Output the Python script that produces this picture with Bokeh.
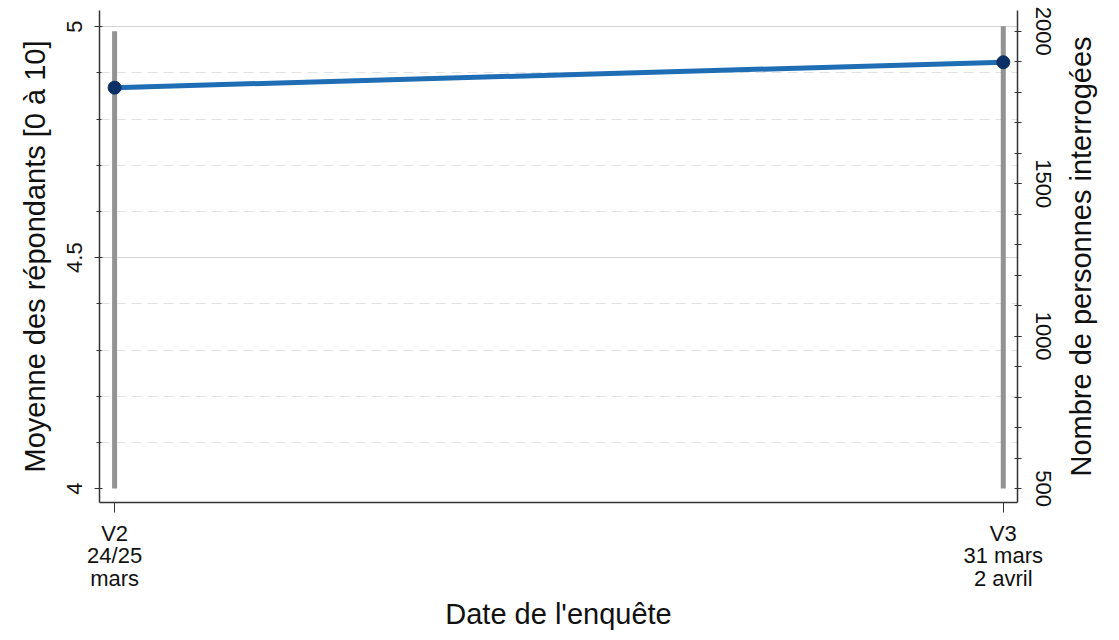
import math
from bokeh.plotting import figure
from bokeh.layouts import row
from bokeh.models import Range1d, LinearAxis, FixedTicker, ColumnDataSource
from bokeh.core.properties import value
from bokeh.embed import file_html
from bokeh.resources import INLINE

# ---- data ----
waves = [0, 1]
wave_labels = ["V2\n24/25\nmars", "V3\n31 mars\n2 avril"]
mean_score = [4.868, 4.923]
n_respondents = [2000, 2016]
n_base = [500, 500]

left_ticks = [4, 4.5, 5]
left_tick_labels = ["4", "4.5", "5"]
right_ticks = [500, 1000, 1500, 2000]
right_title = "Nombre de personnes interrogées"

FONT = "Liberation Sans"
H = 632

src = ColumnDataSource(dict(x=waves, mean=mean_score, n=n_respondents, base=n_base))

p = figure(width=1062, height=H, output_backend="svg", toolbar_location=None,
           x_range=Range1d(-0.017, 1.016), y_range=Range1d(3.970, 5.035),
           min_border_left=99, min_border_right=45, min_border_top=10, min_border_bottom=124)
p.extra_y_ranges = {"n": Range1d(454.4, 2068)}
p.outline_line_color = None
p.background_fill_color = "white"
p.border_fill_color = "white"

# grid
p.xgrid.visible = False
minor_left = [4 + i * 0.1 for i in range(1, 10) if i != 5]
p.ygrid.ticker = FixedTicker(ticks=[4.5, 5], minor_ticks=minor_left)
p.ygrid.grid_line_color = "#d4d4d4"
p.ygrid.grid_line_width = 1
p.ygrid.minor_grid_line_color = "#e3e3e3"
p.ygrid.minor_grid_line_dash = "10 6"
p.ygrid.minor_grid_line_width = 1

# bars (number interviewed)
p.segment(x0="x", y0="base", x1="x", y1="n", source=src, y_range_name="n",
          line_color="#939393", line_width=5, line_cap="butt")

# mean line
p.line("x", "mean", source=src, line_color="#1f6db4", line_width=5)
p.scatter("x", "mean", source=src, size=13, fill_color="#0c2f66", line_color="#0c2f66")

AX = "#333333"

def style_axis(ax):
    ax.axis_line_color = AX
    ax.axis_line_width = 1.5
    ax.major_tick_line_color = AX
    ax.minor_tick_line_color = AX
    ax.major_label_text_font = FONT
    ax.major_label_text_font_size = "22px"
    ax.major_label_text_line_height = 0.9
    ax.major_label_text_color = "#111111"
    ax.axis_label_text_font = FONT
    ax.axis_label_text_font_size = "29px"
    ax.axis_label_text_font_style = "normal"
    ax.axis_label_text_color = "#111111"

# left axis
ly = p.yaxis[0]
style_axis(ly)
ly.ticker = FixedTicker(ticks=left_ticks, minor_ticks=[4 + i * 0.1 for i in range(1, 10)])
ly.major_label_overrides = dict(zip(left_ticks, left_tick_labels))
ly.major_label_orientation = "vertical"
ly.major_tick_in = 3
ly.major_tick_out = 5
ly.minor_tick_in = 2
ly.minor_tick_out = 3
ly.major_label_standoff = 12
ly.axis_label = "Moyenne des répondants [0 à 10]"
ly.axis_label_standoff = 14

# right axis
ry = LinearAxis(y_range_name="n")
style_axis(ry)
ry.ticker = FixedTicker(ticks=right_ticks, minor_ticks=list(range(600, 2000, 100)))
ry.major_label_orientation = "vertical"
ry.major_tick_in = 3
ry.major_tick_out = 4
ry.minor_tick_in = 3
ry.minor_tick_out = 4
ry.major_label_standoff = 14
p.add_layout(ry, "right")

# bottom axis
bx = p.xaxis[0]
style_axis(bx)
bx.ticker = FixedTicker(ticks=waves, minor_ticks=[])
bx.major_label_overrides = dict(zip(waves, wave_labels))
bx.major_tick_in = 0
bx.major_tick_out = 10
bx.minor_tick_line_color = None
bx.major_label_standoff = 8
bx.axis_label = "Date de l'enquête"
bx.axis_label_standoff = 4

# narrow side panel carrying the right-axis title (reads bottom-to-top)
side = figure(width=49, height=H, output_backend="svg", toolbar_location=None,
              x_range=Range1d(0, 49), y_range=Range1d(0, 1),
              min_border=0, outline_line_color=None)
side.axis.visible = False
side.grid.visible = False
side.background_fill_color = "white"
side.border_fill_color = "white"
side.text(x=[18], y=[0.5], text=[right_title], angle=math.pi / 2,
          text_align="center", text_baseline="middle",
          text_font=value(FONT), text_font_size="29px", text_color="#111111")

layout = row(p, side, spacing=0)
open("out.html", "w").write(file_html(layout, INLINE))
